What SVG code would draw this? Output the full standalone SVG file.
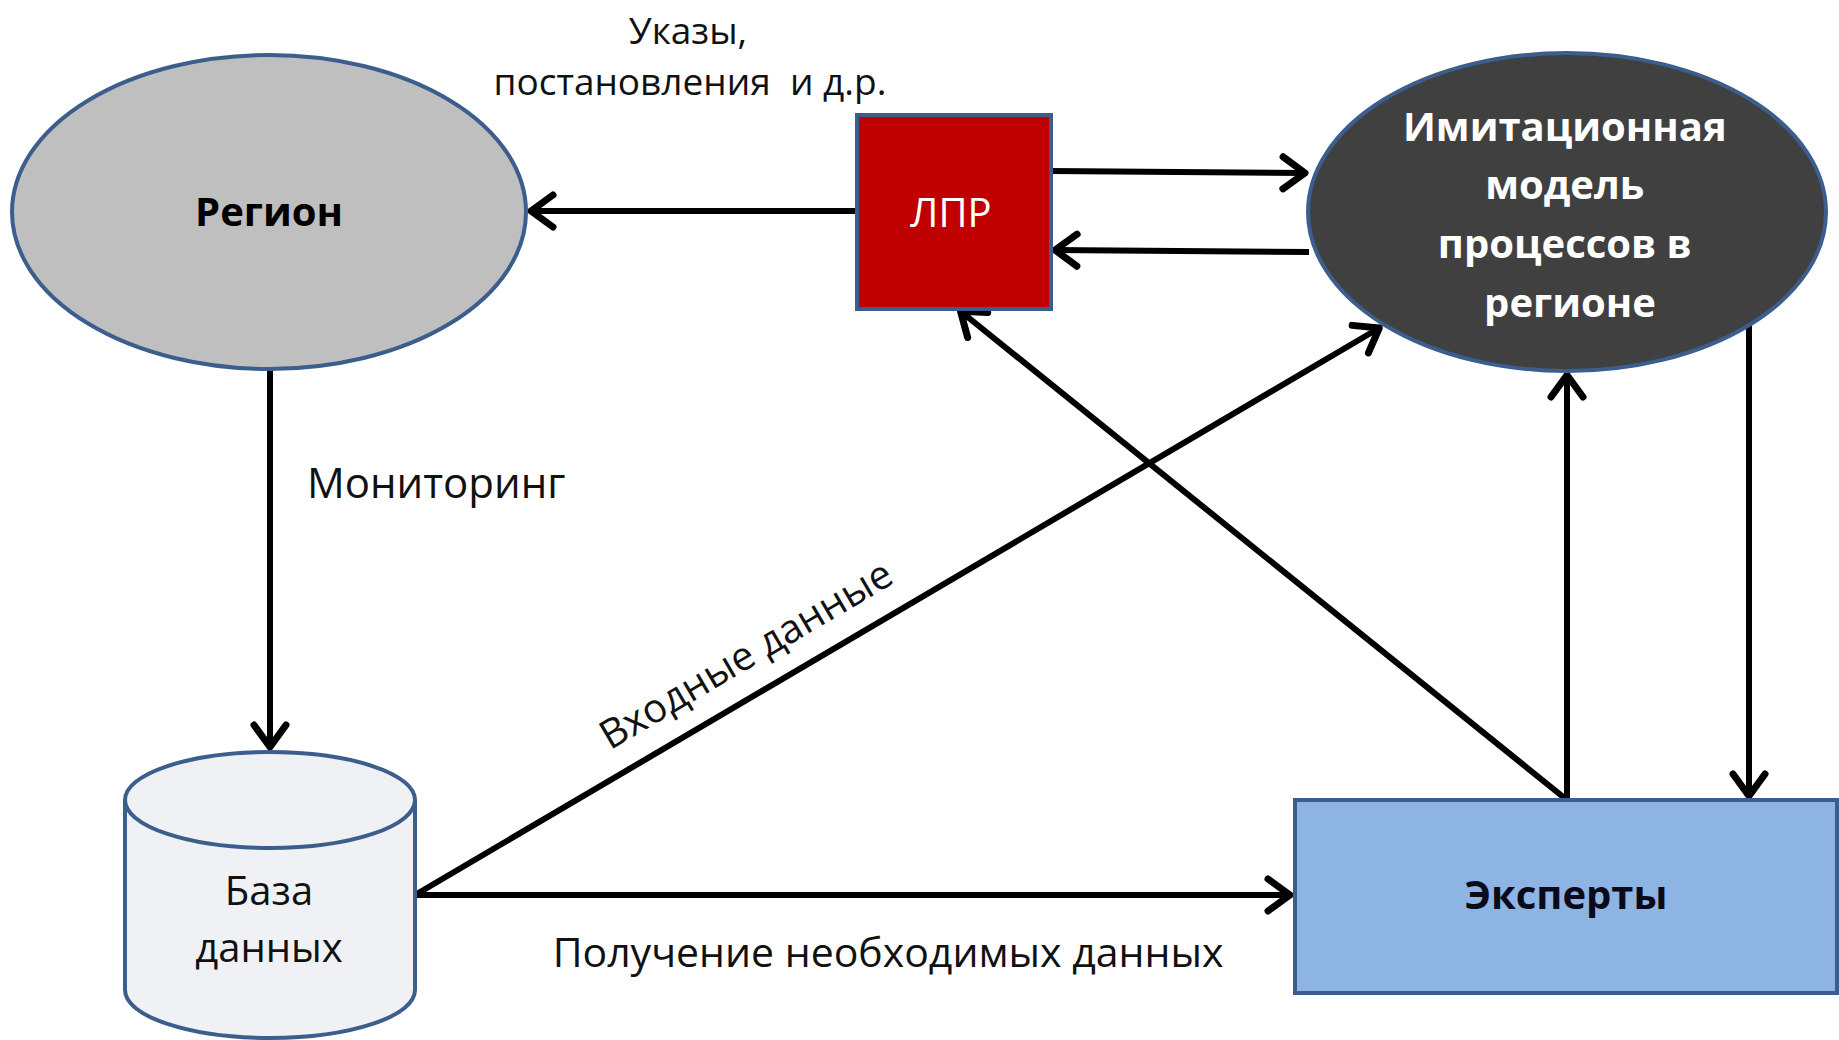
<svg xmlns="http://www.w3.org/2000/svg" width="1839" height="1040" viewBox="0 0 1839 1040">
  <style>
    .lbl { font-family: "Open Sans", "Liberation Sans", sans-serif; font-size: 40px; fill: #111; }
    .bold { font-family: "Open Sans", "Liberation Sans", sans-serif; font-size: 40px; font-weight: bold; }
    .node { stroke: #3B5E8C; stroke-width: 4; }
    .conn { stroke: #000; stroke-width: 6; fill: none; marker-end: url(#arr); }
  </style>
  <defs>
    <marker id="arr" markerUnits="userSpaceOnUse" viewBox="-40 -24 46 48" refX="0" refY="0" markerWidth="46" markerHeight="48" orient="auto">
      <path d="M-24,-16 L-2,0 L-24,16" fill="none" stroke="#000" stroke-width="7" stroke-linecap="round" stroke-linejoin="round"/>
    </marker>
  </defs>
  <rect width="1839" height="1040" fill="#fff"/>

  <g id="connectors">
    <line class="conn" x1="857" y1="211" x2="529" y2="211"/>
    <line class="conn" x1="1051" y1="171" x2="1307" y2="173"/>
    <line class="conn" x1="1309" y1="252" x2="1053" y2="250"/>
    <line class="conn" x1="270" y1="369" x2="270" y2="749"/>
    <line class="conn" x1="415" y1="895" x2="1292" y2="895"/>
    <line class="conn" x1="415" y1="895" x2="1381" y2="327"/>
    <line class="conn" x1="1567" y1="800" x2="959" y2="310"/>
    <line class="conn" x1="1567" y1="800" x2="1567" y2="373"/>
    <line class="conn" x1="1749" y1="325" x2="1749" y2="798"/>
  </g>

  <g id="region">
    <ellipse class="node" cx="269" cy="212" rx="257" ry="157" fill="#BFBFBF"/>
    <text class="bold" x="269" y="210" text-anchor="middle" dominant-baseline="central" fill="#000">Регион</text>
  </g>

  <g id="lpr">
    <rect class="node" x="857" y="115" width="194" height="194" fill="#C00000"/>
    <text class="lbl" x="951" y="211" text-anchor="middle" dominant-baseline="central" style="fill:#fff">ЛПР</text>
  </g>

  <g id="model">
    <ellipse class="node" cx="1567" cy="212" rx="259" ry="159" fill="#404040"/>
    <text class="bold" text-anchor="middle" dominant-baseline="central" fill="#fff">
      <tspan x="1570" y="125">Имитационная</tspan>
      <tspan x="1570" y="183">модель</tspan>
      <tspan x="1570" y="242">процессов в</tspan>
      <tspan x="1570" y="301">регионе</tspan>
    </text>
  </g>

  <g id="database">
    <path class="node" d="M125,800 L125,990 A145,48 0 0 0 415,990 L415,800" fill="#EFF1F5"/>
    <ellipse class="node" cx="270" cy="800" rx="145" ry="48" fill="#EFF1F5"/>
    <text class="lbl" x="269" y="889" text-anchor="middle" dominant-baseline="central">База</text>
    <text class="lbl" x="269" y="946" text-anchor="middle" dominant-baseline="central">данных</text>
  </g>

  <g id="experts">
    <rect class="node" x="1295" y="800" width="542" height="193" fill="#8EB4E3"/>
    <text class="bold" x="1566" y="893" text-anchor="middle" dominant-baseline="central" fill="#0A0A1A">Эксперты</text>
  </g>

  <g id="labels">
    <text class="lbl" x="688" y="29" text-anchor="middle" dominant-baseline="central" style="font-size:37px">Указы,</text>
    <text class="lbl" x="690" y="80" text-anchor="middle" dominant-baseline="central" xml:space="preserve" style="font-size:37px">постановления  и д.р.</text>
    <text class="lbl" x="307" y="481" dominant-baseline="central" style="font-size:42px">Мониторинг</text>
    <text class="lbl" x="888" y="951" text-anchor="middle" dominant-baseline="central" style="font-size:41px">Получение необходимых данных</text>
    <text class="lbl" x="745" y="653" text-anchor="middle" dominant-baseline="central" transform="rotate(-30.5 745 653)">Входные данные</text>
  </g>
</svg>
